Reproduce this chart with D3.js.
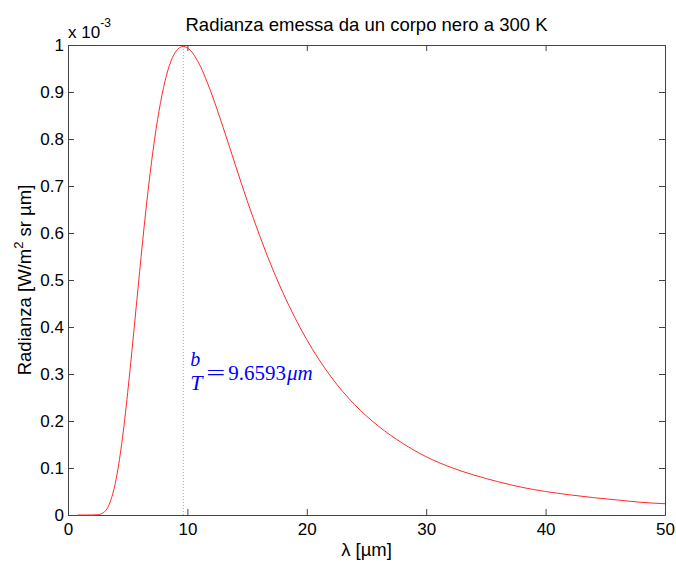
<!DOCTYPE html>
<html>
<head>
<meta charset="utf-8">
<script src="https://cdn.jsdelivr.net/npm/d3@7"></script>
<style>
  html, body { margin: 0; padding: 0; background: #fff; }
  svg { display: block; }
</style>
</head>
<body>
<svg id="chart" width="676" height="563"></svg>
<script>
// Wavelength samples [µm]
const lambda = [0.8, 1, 1.5, 2, 2.5, 3, 3.5, 4, 4.5, 5, 5.5, 6, 6.5, 7, 7.5, 8, 8.5, 9, 9.66, 10,
  11, 12, 13, 14, 15, 16, 17, 18, 19, 20, 22, 24, 26, 28, 30, 32, 34, 36, 38, 40,
  42, 44, 46, 48, 50];
// Radiance [x 10^-3 W/m^2 sr µm]
const radiance = [0, 0, 0, 0, 0.0006, 0.0056, 0.0255, 0.0723, 0.152, 0.261, 0.387, 0.518, 0.643, 0.752, 0.841, 0.909, 0.957, 0.985, 0.997, 0.994,
  0.959, 0.898, 0.824, 0.746, 0.669, 0.598, 0.532, 0.473, 0.420, 0.373, 0.295, 0.235, 0.189, 0.153, 0.124, 0.102, 0.085, 0.071, 0.059, 0.050,
  0.043, 0.037, 0.032, 0.027, 0.024];
const peakLambda = 9.6593;
const peakValue = 0.997;
const xTicks = [0, 10, 20, 30, 40, 50];
const yTicks = [0, 0.1, 0.2, 0.3, 0.4, 0.5, 0.6, 0.7, 0.8, 0.9, 1];
const yTickLabels = ["0", "0.1", "0.2", "0.3", "0.4", "0.5", "0.6", "0.7", "0.8", "0.9", "1"];

const sans = '"Liberation Sans", Arial, Helvetica, sans-serif';
const mathFont = '"Liberation Serif", "Times New Roman", serif';

const svg = d3.select("#chart");
const L = 68, R = 665, T = 45, B = 515;
const x = d3.scaleLinear().domain([0, 50]).range([L, R]);
const y = d3.scaleLinear().domain([0, 1]).range([B, T]);
const axisColor = "#444";
const tickFont = 17;

function styleAxis(g) {
  g.selectAll("path.domain").attr("stroke", axisColor).attr("stroke-width", 1);
  g.selectAll(".tick line").attr("stroke", axisColor).attr("stroke-width", 1);
  g.selectAll(".tick text").attr("fill", "#000").style("font-size", tickFont + "px")
    .style("font-family", sans);
}

// bottom
svg.append("g").attr("transform", `translate(0,${B})`)
  .call(d3.axisBottom(x).tickValues(xTicks).tickFormat(d3.format("d")).tickSizeInner(-6).tickSizeOuter(0).tickPadding(8))
  .call(styleAxis);
// top
svg.append("g").attr("transform", `translate(0,${T})`)
  .call(d3.axisTop(x).tickValues(xTicks).tickFormat("").tickSizeInner(-6).tickSizeOuter(0))
  .call(styleAxis);
// left
svg.append("g").attr("transform", `translate(${L},0)`)
  .call(d3.axisLeft(y).tickValues(yTicks).tickFormat((d, i) => yTickLabels[i]).tickSizeInner(-6).tickSizeOuter(0).tickPadding(4))
  .call(styleAxis);
// right
svg.append("g").attr("transform", `translate(${R},0)`)
  .call(d3.axisRight(y).tickValues(yTicks).tickFormat("").tickSizeInner(-6).tickSizeOuter(0))
  .call(styleAxis);

// dotted peak line
svg.append("line")
  .attr("x1", x(peakLambda)).attr("x2", x(peakLambda))
  .attr("y1", y(0)).attr("y2", y(peakValue))
  .attr("stroke", "#3a3aff").attr("stroke-opacity", 0.5)
  .attr("stroke-width", 1).attr("stroke-dasharray", "1,2");

// curve
const data = lambda.map((l, i) => [l, radiance[i]]);
svg.append("path").datum(data)
  .attr("fill", "none").attr("stroke", "#ff2a2a").attr("stroke-width", 1)
  .attr("d", d3.line().x(d => x(d[0])).y(d => y(d[1])).curve(d3.curveMonotoneX));

// title
svg.append("text").attr("x", (L + R) / 2).attr("y", 31).attr("text-anchor", "middle")
  .style("font-family", sans).style("font-size", "18.5px").text("Radianza emessa da un corpo nero a 300 K");

// exponent
const ex = svg.append("text").attr("x", L).attr("y", 38).style("font-family", sans).style("font-size", "17px");
ex.append("tspan").text("x 10");
ex.append("tspan").style("font-size", "12px").attr("dy", -11).text("-3");

// x label
svg.append("text").attr("x", (L + R) / 2).attr("y", 556).attr("text-anchor", "middle")
  .style("font-family", sans).style("font-size", "18.5px").text("λ [µm]");

// y label
const yl = svg.append("text").attr("transform", `translate(31,${(T + B) / 2}) rotate(-90)`)
  .attr("text-anchor", "middle").style("font-family", sans).style("font-size", "18.5px");
yl.append("tspan").text("Radianza [W/m");
yl.append("tspan").style("font-size", "13px").attr("dy", -8).text("2");
yl.append("tspan").attr("dy", 8).text(" sr µm]");

// annotation b/T = 9.6593 µm
const px = x(peakLambda);
const ann = svg.append("g").attr("fill", "#0000ff");
ann.append("text").attr("x", px + 12).attr("y", 366).attr("text-anchor", "middle")
  .style("font-family", mathFont).style("font-size", "20px").style("font-style", "italic").text("b");
ann.append("text").attr("x", px + 13).attr("y", 390).attr("text-anchor", "middle")
  .style("font-family", mathFont).style("font-size", "22px").style("font-style", "italic").text("T");
ann.append("text").attr("x", px + 23).attr("y", 380)
  .attr("textLength", 19).attr("lengthAdjust", "spacingAndGlyphs")
  .style("font-family", mathFont).style("font-size", "21px").text("=");
const eq = ann.append("text").attr("x", px + 45).attr("y", 380)
  .style("font-family", mathFont).style("font-size", "21px");
eq.append("tspan").text("9.6593");
eq.append("tspan").attr("dx", 1).style("font-style", "italic").text("μm");
</script>
</body>
</html>
